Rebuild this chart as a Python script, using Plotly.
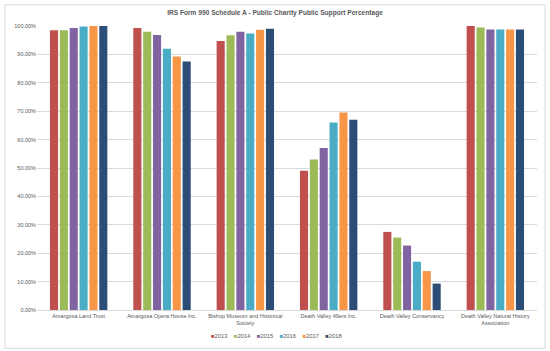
import plotly.graph_objects as go

categories = ["Amargosa Land Trust", "Amargosa Opera House Inc.",
              "Bishop Museum and Historical<br>Society", "Death Valley 49ers Inc.",
              "Death Valley Conservancy", "Death Valley Natural History<br>Association"]
years = ["2013", "2014", "2015", "2016", "2017", "2018"]
v2013 = [0.985, 0.993, 0.947, 0.490, 0.275, 1.000]
v2014 = [0.985, 0.980, 0.967, 0.530, 0.255, 0.995]
v2015 = [0.993, 0.968, 0.980, 0.570, 0.227, 0.988]
v2016 = [0.998, 0.920, 0.974, 0.660, 0.170, 0.988]
v2017 = [1.000, 0.893, 0.987, 0.695, 0.137, 0.988]
v2018 = [1.000, 0.875, 0.990, 0.670, 0.093, 0.988]
series = [v2013, v2014, v2015, v2016, v2017, v2018]
colors = ["#C0504D", "#9BBB59", "#8064A2", "#4BACC6", "#F79646", "#2C4D75"]

fig = go.Figure()
for y, vals, c in zip(years, series, colors):
    fig.add_trace(go.Bar(name=y, x=categories, y=vals, showlegend=False,
                         marker=dict(color=c, line=dict(width=0))))

legend_text = "&nbsp;&nbsp;&nbsp;&nbsp;".join(
    f"<span style='color:{c}'>■</span>{y}" for y, c in zip(years, colors))

fig.update_layout(
    width=550, height=351,
    barmode="group", bargap=0.29, bargroupgap=0.18,
    paper_bgcolor="white", plot_bgcolor="white",
    margin=dict(l=37, r=13, t=26, b=41, autoexpand=False),
    font=dict(family="Liberation Sans", size=6, color="#595959"),
    title=dict(text="<b>IRS Form 990 Schedule A - Public Charity Public Support Percentage</b>",
               x=0.5, xanchor="center", y=0.963, yanchor="middle",
               font=dict(size=6.6, color="#595959")),
    xaxis=dict(showgrid=False, showline=True, linecolor="#D9D9D9", ticks="",
               tickfont=dict(size=5.5)),
    yaxis=dict(range=[0, 1.0], tickformat=".2%", dtick=0.1, showgrid=True,
               gridcolor="#D9D9D9", gridwidth=1, zeroline=False, ticks="",
               tickfont=dict(size=5.5)),
    annotations=[dict(text=legend_text, xref="paper", yref="paper", x=0.478, y=-0.092,
                      xanchor="center", yanchor="middle", showarrow=False,
                      font=dict(size=5.8, color="#595959"))],
    shapes=[dict(type="rect", xref="paper", yref="paper", x0=-0.064, x1=1.016, y0=-0.135, y1=1.075,
                 line=dict(color="#D9D9D9", width=1))],
)
fig.write_html("out.html")
